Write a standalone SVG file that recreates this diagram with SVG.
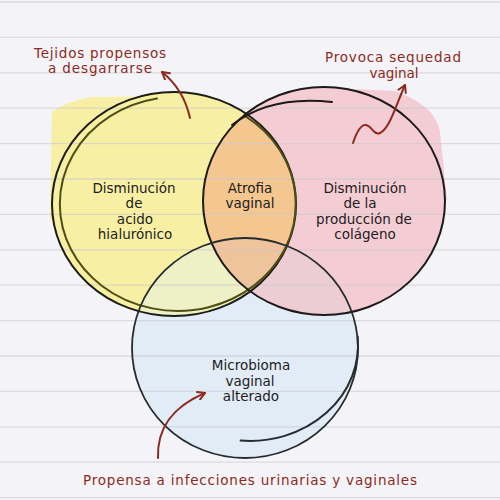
<svg xmlns="http://www.w3.org/2000/svg" width="500" height="500" viewBox="0 0 500 500">
<style>
.t{font-family:"DejaVu Sans","Noto Sans",sans-serif;font-size:13.5px;fill:#1c1c1c;text-anchor:middle}
.a{font-family:"DejaVu Sans","Noto Sans",sans-serif;font-size:13.5px;fill:#8c2a20;text-anchor:middle}
.ln{stroke:#c9c9d1;stroke-width:1.3;opacity:0.6}
.ar{fill:none;stroke:#8c2a20;stroke-width:2;stroke-linecap:round;marker-end:url(#ah)}
.ring{fill:none;stroke-linecap:round}
</style>
<defs>
<marker id="ah" viewBox="0 0 10 10" refX="8" refY="5" markerWidth="10" markerHeight="10" markerUnits="userSpaceOnUse" orient="auto">
<path d="M1,1 L8,5 L1,9" fill="none" stroke="#8c2a20" stroke-width="2" stroke-linecap="round" stroke-linejoin="round"/>
</marker>
<clipPath id="cY"><ellipse cx="174" cy="204" rx="122" ry="112"/></clipPath>
<clipPath id="cP"><ellipse cx="324" cy="201" rx="121" ry="114"/></clipPath>
<clipPath id="cB"><ellipse cx="245" cy="348" rx="113" ry="110"/></clipPath>
</defs>
<rect width="500" height="500" fill="#f4f4f8"/>
<g id="fills">
<path d="M52,112 C62,104 80,99 92,97 L200,96 L230,104 L120,150 L50,222 Z" fill="#f7f0a4"/>
<ellipse cx="174" cy="204" rx="122" ry="112" fill="#f7f0a4"/>
<path d="M300,95 L335,88 L395,91 C420,100 436,112 440,132 L447,200 L420,200 Z" fill="#f4cdd4"/>
<ellipse cx="324" cy="201" rx="121" ry="114" fill="#f4cdd4"/>
<ellipse cx="245" cy="348" rx="113" ry="110" fill="#e2ecf6"/>
<ellipse cx="324" cy="201" rx="121" ry="114" fill="#f3c78f" clip-path="url(#cY)"/>
<ellipse cx="245" cy="348" rx="113" ry="110" fill="#eef0c6" clip-path="url(#cY)"/>
<ellipse cx="245" cy="348" rx="113" ry="110" fill="#eccdd4" clip-path="url(#cP)"/>
<g clip-path="url(#cY)"><ellipse cx="245" cy="348" rx="113" ry="110" fill="#efc39b" clip-path="url(#cP)"/></g>
</g>
<g id="paper-lines">
<line class="ln" x1="0" y1="2" x2="500" y2="2"/>
<line class="ln" x1="0" y1="37.4" x2="500" y2="37.4"/>
<line class="ln" x1="0" y1="72.8" x2="500" y2="72.8"/>
<line class="ln" x1="0" y1="108.2" x2="500" y2="108.2"/>
<line class="ln" x1="0" y1="143.6" x2="500" y2="143.6"/>
<line class="ln" x1="0" y1="179" x2="500" y2="179"/>
<line class="ln" x1="0" y1="214.4" x2="500" y2="214.4"/>
<line class="ln" x1="0" y1="249.8" x2="500" y2="249.8"/>
<line class="ln" x1="0" y1="285.2" x2="500" y2="285.2"/>
<line class="ln" x1="0" y1="320.6" x2="500" y2="320.6"/>
<line class="ln" x1="0" y1="356" x2="500" y2="356"/>
<line class="ln" x1="0" y1="391.4" x2="500" y2="391.4"/>
<line class="ln" x1="0" y1="426.8" x2="500" y2="426.8"/>
<line class="ln" x1="0" y1="462.2" x2="500" y2="462.2"/>
<line class="ln" x1="0" y1="497.6" x2="500" y2="497.6"/>
</g>
<g id="node-hialuronico">
<ellipse class="ring" cx="174" cy="204" rx="122" ry="112" stroke="#1c1c16" stroke-width="2"/>
<path class="ring" d="M157,98.6 A118 107 0 1 0 245.7,116.4" stroke="#4f4f14" stroke-width="2"/>
<text class="t" x="134" y="192.5">Disminución</text>
<text class="t" x="134" y="208">de</text>
<text class="t" x="135" y="223.5">acido</text>
<text class="t" x="135" y="239">hialurónico</text>
</g>
<g id="node-colageno">
<ellipse class="ring" cx="324" cy="201" rx="121" ry="114" stroke="#1e1a1a" stroke-width="2"/>
<path class="ring" d="M232,125 Q270,95 332,102" stroke="#1e1a1a" stroke-width="2"/>
<text class="t" x="365" y="192.5">Disminución</text>
<text class="t" x="360" y="208">de la</text>
<text class="t" x="364" y="223.5">producción de</text>
<text class="t" x="365" y="239">colágeno</text>
</g>
<g id="node-microbioma">
<ellipse class="ring" cx="245" cy="348" rx="113" ry="110" stroke="#262b2e" stroke-width="1.8"/>
<path class="ring" d="M240.6,440.6 A108 96 0 0 0 357.6,336.6" stroke="#262b2e" stroke-width="2"/>
<text class="t" x="251" y="370">Microbioma</text>
<text class="t" x="250" y="385.5">vaginal</text>
<text class="t" x="251" y="401">alterado</text>
</g>
<g id="node-atrofia">
<text class="t" x="250" y="192.5">Atrofia</text>
<text class="t" x="250" y="208">vaginal</text>
</g>
<g id="connectors">
<path class="ar" d="M190,118 C186,100 177,84 162,72"/>
<path class="ar" d="M353,143 C356,134 360,124 366,125 C372,126 374,136 380,133 C390,128 396,105 405,85"/>
<path class="ar" d="M158,458 C157,430 170,408 205,393"/>
</g>
<g id="labels">
<text class="a" x="100" y="57.5" textLength="132">Tejidos propensos</text>
<text class="a" x="100" y="73" textLength="104">a desgarrarse</text>
<text class="a" x="393" y="62" textLength="136">Provoca sequedad</text>
<text class="a" x="394" y="77.5">vaginal</text>
<text class="a" x="250" y="484.5" textLength="334">Propensa a infecciones urinarias y vaginales</text>
</g>
</svg>
